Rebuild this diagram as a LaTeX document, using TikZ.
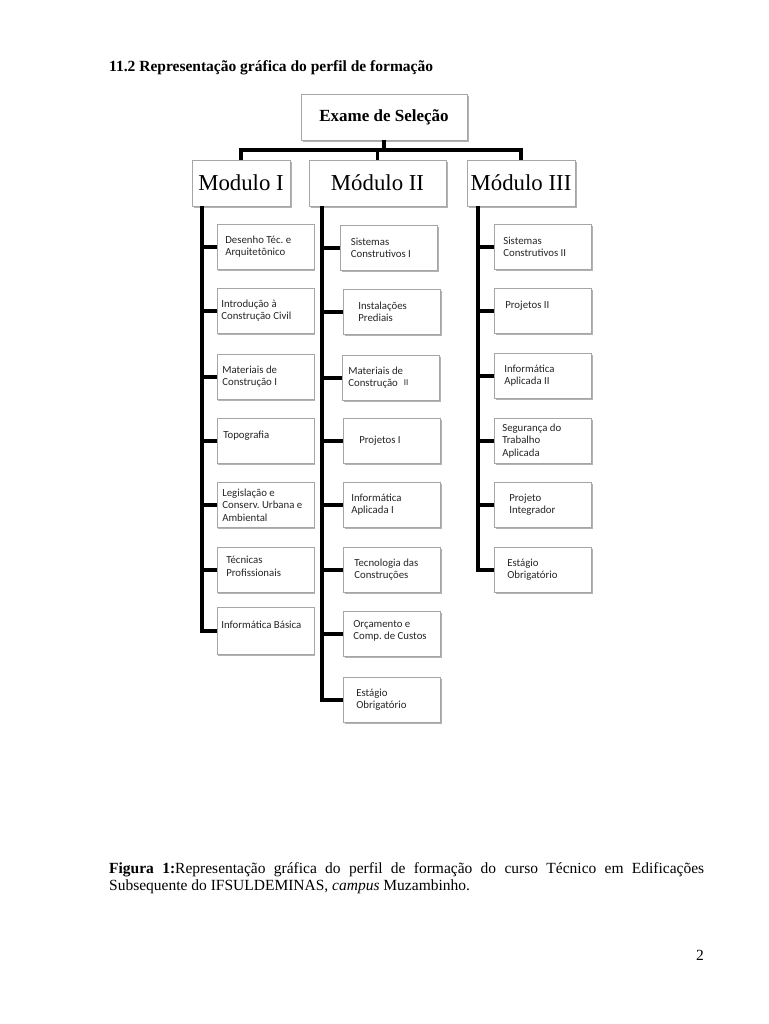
\documentclass[tikz,border=0pt]{standalone}
\usepackage{fontspec}
\setmainfont{Liberation Serif}
\newfontfamily\calibri{Carlito}
\usetikzlibrary{shadows}

\tikzset{
  link/.style={line width=3.9pt},
  boxbase/.style={draw=black!35,line width=0.6pt,fill=white,
    drop shadow={shadow xshift=1.6pt,shadow yshift=-1.8pt,opacity=0.3,fill=black}},
  module/.style={boxbase,minimum height=46pt,inner sep=1pt,font=\fontsize{22.8}{24}\selectfont},
  cell/.style={boxbase,anchor=north west,minimum width=97pt,minimum height=45pt,
    inner sep=1pt,text width=#1pt,align=flush left,text=black!85,
    font=\calibri\frenchspacing\fontsize{10.8}{12.5}\selectfont},
  cell/.default=85
}

\begin{document}
\begin{tikzpicture}[x=1pt,y=-1pt]
\fill[white] (0,0) rectangle (768,1024);
\useasboundingbox (0,0) rectangle (768,1024);

\node[anchor=base west,inner sep=0,font=\bfseries\fontsize{15.5}{18}\selectfont] (titulo) at (109,72) {11.2 Representação gráfica do perfil de formação};

\node[boxbase,minimum width=166pt,minimum height=46pt,font=\bfseries\fontsize{17}{18}\selectfont] (exame) at (384,117) {Exame de Seleção};
\node[module,minimum width=98pt] (modI) at (241,183) {Modulo I};
\node[module,minimum width=137pt] (modII) at (377.5,183) {Módulo II};
\node[module,minimum width=108pt] (modIII) at (521,183) {Módulo III};

\draw[link] (exame.south) -- ++(0,10) coordinate (barra);
\draw[link] (modI.north) |- (barra) -| (modIII.north);
\draw[link] (modII.north) -- (modII.north |- barra);

\node[cell=80] (a1) at (216.5,224) {Desenho Téc. e\\Arquitetônico};
\node[cell=88] (a2) at (216.5,288) {Introdução à\\Construção Civil};
\node[cell=86] (a3) at (216.5,354) {Materiais de\\Construção I};
\node[cell=84] (a4) at (216.5,418) {Topografia\\\mbox{}};
\node[cell=86] (a5) at (216.5,482) {Legislação e\\Conserv. Urbana e\\Ambiental};
\node[cell=78] (a6) at (216.5,547) {Técnicas\\Profissionais\\[-5pt]\mbox{}};
\node[cell=88,minimum height=47pt] (a7) at (216.5,607) {Informática Básica\\\mbox{}};

\node[cell=76] (b1) at (340,225) {Sistemas\\Construtivos I};
\node[cell=67] (b2) at (343,289) {Instalações\\Prediais};
\node[cell=85] (b3) at (342,355) {Materiais de\\Construção\hspace{6pt}\raisebox{1.5pt}{\fontsize{9}{9}\selectfont II}};
\node[cell=65] (b4) at (343,418) {Projetos I};
\node[cell=81] (b5) at (343,482) {Informática\\Aplicada I};
\node[cell=75] (b6) at (343,547) {Tecnologia das\\Construções};
\node[cell=77] (b7) at (343,611) {Orçamento e\\Comp. de Custos\\[-5pt]\mbox{}};
\node[cell=71] (b8) at (343,677) {Estágio\\Obrigatório};

\node[cell=79] (c1) at (494,224) {Sistemas\\Construtivos II};
\node[cell=75] (c2) at (494,288) {Projetos II\\\mbox{}};
\node[cell=77] (c3) at (494,353) {Informática\\Aplicada II};
\node[cell=81] (c4) at (494,418) {Segurança do\\Trabalho\\Aplicada};
\node[cell=67] (c5) at (494,482) {Projeto\\Integrador};
\node[cell=71] (c6) at (494,547) {Estágio\\Obrigatório};

\foreach \i in {1,...,7} \draw[link] ([xshift=10pt]modI.south west) |- (a\i.west);
\foreach \i in {1,...,8} \draw[link] ([xshift=13pt]modII.south west) |- (b\i.west);
\foreach \i in {1,...,6} \draw[link] ([xshift=11pt]modIII.south west) |- (c\i.west);

\node[anchor=north west,inner sep=0,text width=595pt,align=justify,font=\fontsize{15.5}{17.5}\selectfont] (legenda) at (109,862) {\textbf{Figura 1:}Representação gráfica do perfil de formação do curso Técnico em Edificações\linebreak Subsequente do IFSULDEMINAS, \textit{campus} Muzambinho.};
\node[anchor=base east,inner sep=0,font=\fontsize{15.5}{18}\selectfont] (pagina) at (704,960) {2};
\end{tikzpicture}
\end{document}
